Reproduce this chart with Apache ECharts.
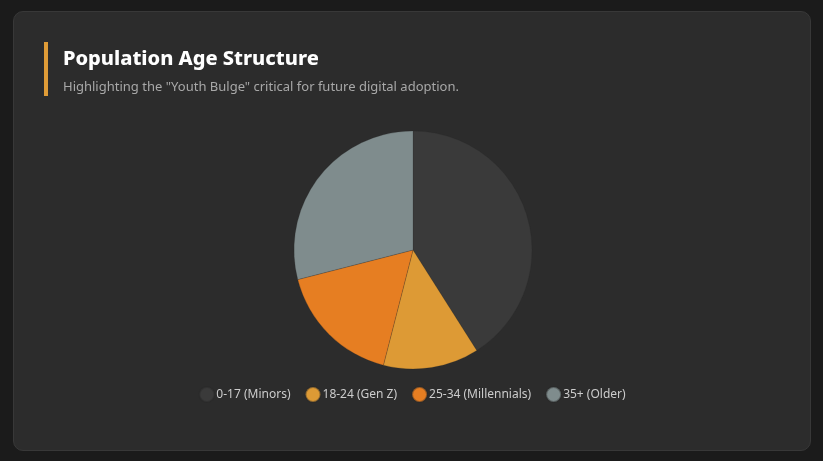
<!DOCTYPE html>
<html>
<head>
<meta charset="utf-8">
<script src="https://cdn.jsdelivr.net/npm/echarts@6/dist/echarts.min.js"></script>
<style>
	html, body { margin: 0; padding: 0; background: #1b1b1b; width: 823px; height: 461px; overflow: hidden; }
	.card {
		position: absolute; left: 13px; top: 11px; width: 796px; height: 438px;
		background: #2c2c2c; border: 1px solid #383838; border-radius: 10px;
		font-family: "Noto Sans", "Open Sans", sans-serif;
	}
	.head { position: absolute; left: 30px; top: 30px; border-left: 4px solid #e09c37; padding-left: 15px; height: 54px; }
	.head h2 { margin: 0; padding-top: 1px; font-size: 20px; font-weight: 800; color: #ffffff; line-height: 30px; }
	.head p { margin: 0; padding-top: 3px; font-size: 13px; color: #a8a8a8; line-height: 20px; }
	#main { position: absolute; left: 0; top: 0; width: 796px; height: 438px; }
</style>
</head>
<body>
<div class="card">
	<div id="main"></div>
	<div class="head">
		<h2>Population Age Structure</h2>
		<p>Highlighting the "Youth Bulge" critical for future digital adoption.</p>
	</div>
</div>
<script>
var groups = ['0-17 (Minors)', '18-24 (Gen Z)', '25-34 (Millennials)', '35+ (Older)'];
var shares = [41, 13, 17, 29];
var colors = ['#3a3a3a', '#dd9a35', '#e67e22', '#7f8c8d'];

var myChart = echarts.init(document.getElementById('main'));
var option = {
	animation: false,
	color: colors,
	legend: {
		left: 'center',
		top: 369,
		icon: 'circle',
		itemWidth: 15,
		itemHeight: 15,
		itemGap: 14,
		textStyle: {
			color: '#cccccc',
			fontSize: 12,
			fontFamily: 'Noto Sans',
			padding: [0, 0, 0, -3]
		},
		data: groups
	},
	series: [{
		name: 'Population',
		type: 'pie',
		center: [399, 238],
		radius: 119,
		startAngle: 90,
		clockwise: true,
		label: { show: false },
		labelLine: { show: false },
		itemStyle: { borderColor: 'rgba(40,40,40,0.4)', borderWidth: 0.5 },
		data: groups.map(function(g, i) {
			return { name: g, value: shares[i] };
		})
	}]
};
myChart.setOption(option);
</script>
</body>
</html>
